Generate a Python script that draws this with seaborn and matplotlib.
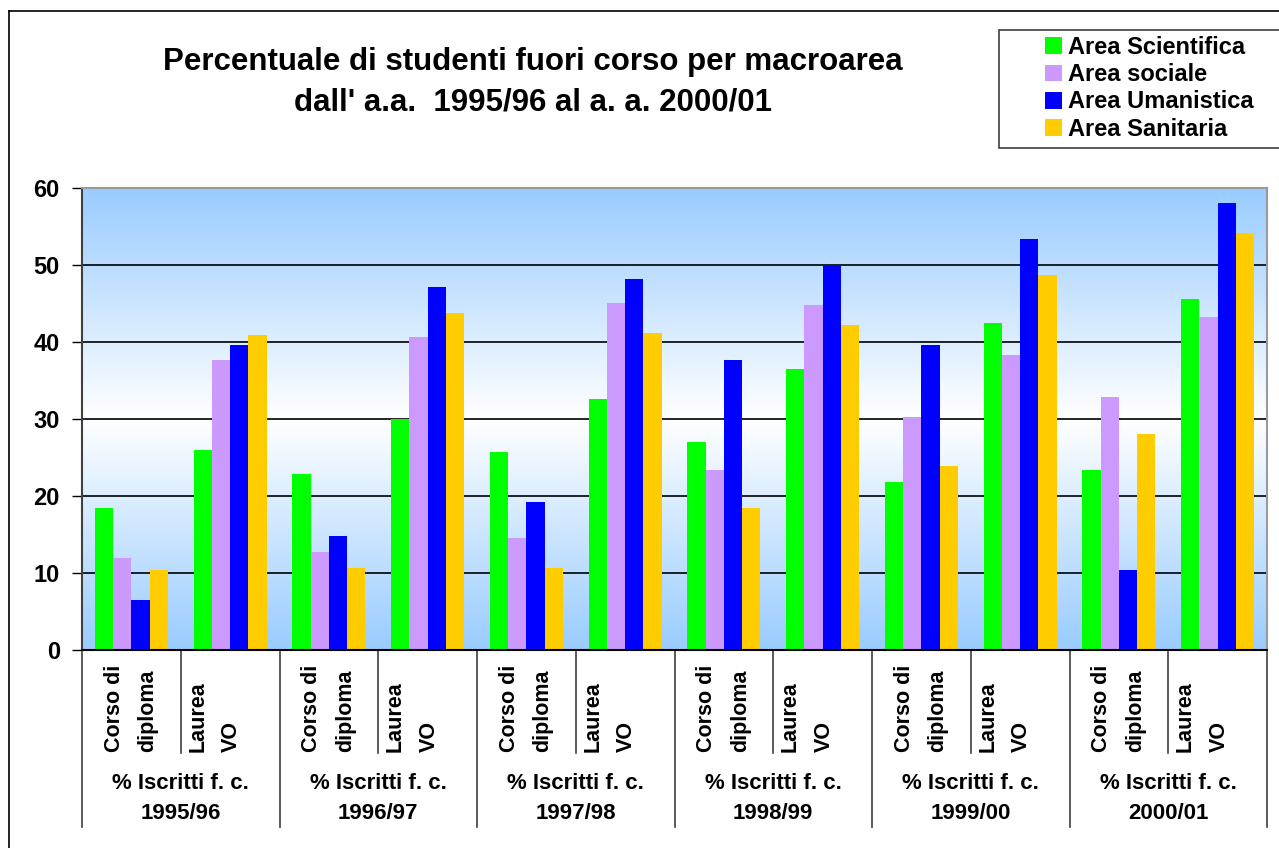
import numpy as np
import pandas as pd
import matplotlib
matplotlib.use("Agg")
import matplotlib.pyplot as plt
import seaborn as sns
from matplotlib.colors import LinearSegmentedColormap
from matplotlib.lines import Line2D
from matplotlib.patches import Rectangle

# dati (ordine: anno x tipo corso)
years = ["1995/96", "1996/97", "1997/98", "1998/99", "1999/00", "2000/01"]
courses = ["Corso di\ndiploma", "Laurea\nVO"]
areas = ["Area Scientifica", "Area sociale", "Area Umanistica", "Area Sanitaria"]
colors = ["#00FF00", "#CC99FF", "#0000FF", "#FFCC00"]

scientifica = [18.5, 26.0, 22.9, 30.0, 25.7, 32.6, 27.0, 36.5, 21.8, 42.5, 23.4, 45.6]
sociale = [12.0, 37.6, 12.7, 40.7, 14.6, 45.1, 23.4, 44.8, 30.2, 38.3, 32.8, 43.3]
umanistica = [6.5, 39.6, 14.8, 47.2, 19.2, 48.2, 37.6, 50.0, 39.6, 53.4, 10.4, 58.1]
sanitaria = [10.4, 40.9, 10.7, 43.8, 10.7, 41.2, 18.5, 42.2, 23.9, 48.7, 28.1, 54.2]

cats = [f"{y}|{c}" for y in years for c in courses]
rows = []
for area, vals in zip(areas, [scientifica, sociale, umanistica, sanitaria]):
    for cat, v in zip(cats, vals):
        rows.append({"cat": cat, "area": area, "val": v})
df = pd.DataFrame(rows)

plt.rcParams["font.family"] = ["Liberation Sans", "DejaVu Sans"]
plt.rcParams["font.weight"] = "bold"

fig = plt.figure(figsize=(12.79, 8.48), dpi=100)
W, H = 1279, 848
ax = fig.add_axes([82 / W, 1 - 650 / H, (1267 - 82) / W, (650 - 188) / H])

sns.barplot(data=df, x="cat", y="val", hue="area", order=cats, hue_order=areas,
            palette=colors, saturation=1, width=0.74, ax=ax, legend=False, zorder=2)

ax.set_xlim(-0.5, len(cats) - 0.5)
ax.set_ylim(0, 60)

# sfondo sfumato
cmap = LinearSegmentedColormap.from_list("bg", ["#FFFFFF", "#99CCFF"])
grad = np.abs(np.linspace(-1, 1, 256))[:, None]
ax.imshow(grad, extent=(-0.5, len(cats) - 0.5, 0, 60), aspect="auto",
          cmap=cmap, vmin=0, vmax=1, zorder=0)

ax.set_yticks(range(0, 61, 10))
ax.set_yticklabels([str(v) for v in range(0, 61, 10)], fontsize=17, fontweight="bold")
ax.tick_params(axis="y", length=7, width=1, pad=9, direction="out")
ax.yaxis.grid(True, color="black", linewidth=1.2, zorder=1)
ax.set_axisbelow(True)
ax.set_xticks([])
ax.set_xlabel("")
ax.set_ylabel("")
ax.spines["left"].set_color("#404040")
ax.spines["bottom"].set_color("black")
ax.spines["top"].set_color("#9A9A9A")
ax.spines["right"].set_color("#9A9A9A")
for s in ax.spines.values():
    s.set_linewidth(1.5)

# etichette asse x a due livelli
tr = ax.get_xaxis_transform()
for k in range(len(cats) + 1):
    x = k - 0.5
    y_end = -0.383 if k % 2 == 0 else -0.223
    ax.plot([x, x], [0, y_end], transform=tr, color="#404040", lw=1.2, clip_on=False)

for i, cat in enumerate(cats):
    course = cat.split("|")[1]
    off = 49 / 98.75 if i % 2 == 0 else 34 / 98.75
    ax.text(i - 0.5 + off, -0.221, course, transform=tr, rotation=90,
            ha="center", va="bottom", multialignment="left",
            fontsize=15.5, fontweight="bold", linespacing=1.8)

for j, y in enumerate(years):
    ax.text(2 * j + 0.5, -0.322, f"% Iscritti f. c.\n{y}", transform=tr,
            ha="center", va="center", fontsize=16, fontweight="bold", linespacing=1.55)

# titolo
fig.text(533 / W, 1 - 82 / H,
         "Percentuale di studenti fuori corso per macroarea\ndall' a.a.  1995/96 al a. a. 2000/01",
         ha="center", va="center", fontsize=22.5, fontweight="bold", linespacing=1.45)

# legenda
fig.patches.append(Rectangle((999 / W, 1 - 148 / H), 400 / W, 118 / H,
                             transform=fig.transFigure, facecolor="white",
                             edgecolor="#404040", lw=1.2))
handles = [Rectangle((0, 0), 1, 1, facecolor=c, edgecolor="none") for c in colors]
fig.legend(handles, areas, loc="upper left", bbox_to_anchor=(1045 / W, 1 - 36 / H),
           frameon=False, handlelength=0.72, handleheight=0.72,
           handletextpad=0.25, labelspacing=0.18, borderpad=0, borderaxespad=0,
           prop={"weight": "bold", "size": 17})

# bordo della figura
fig.add_artist(Line2D([9 / W, 9 / W], [0, 1 - 11 / H], color="black", lw=1.2))
fig.add_artist(Line2D([9 / W, 1], [1 - 11 / H, 1 - 11 / H], color="black", lw=1.2))

fig.savefig("out.png", dpi=100)
